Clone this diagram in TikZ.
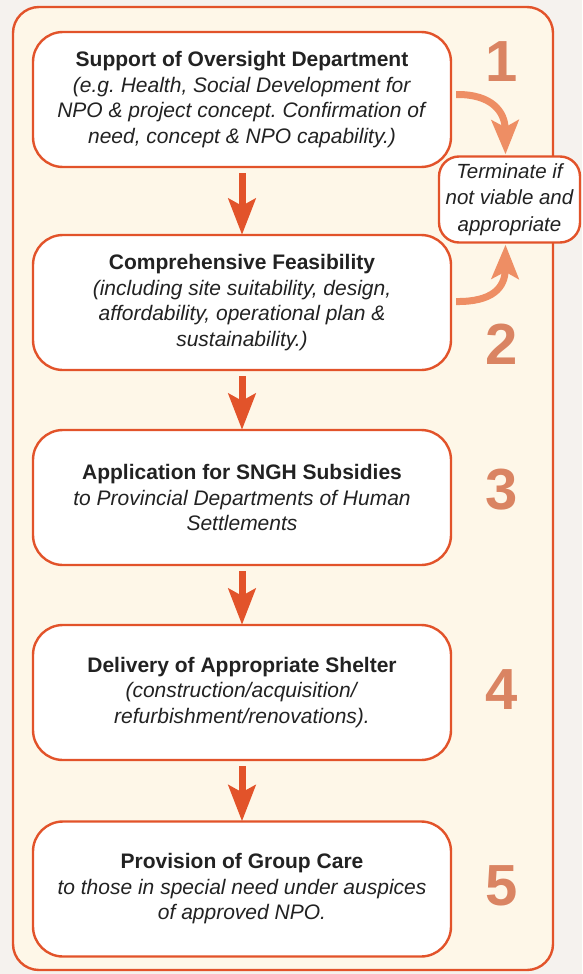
\documentclass[tikz,border=0pt]{standalone}
\usepackage{fontspec}
\setmainfont{Liberation Sans}
\usetikzlibrary{arrows.meta,calc}
\frenchspacing
\definecolor{bgc}{HTML}{F5F2EE}
\definecolor{panelc}{HTML}{FEF7E8}
\definecolor{edgec}{HTML}{E2532A}
\definecolor{numc}{HTML}{DA8462}
\definecolor{curvec}{HTML}{EE8E64}
\definecolor{txtc}{HTML}{222222}
\tikzset{
  stepbox/.style={draw=edgec, line width=2.4pt, fill=white, rounded corners=30pt,
    minimum width=418pt, minimum height=135pt, inner sep=0pt, align=center,
    text=txtc, font=\fontsize{21}{25.5}\selectfont},
  termbox/.style={draw=edgec, line width=2.4pt, fill=white, rounded corners=20pt,
    minimum width=141pt, minimum height=86pt, inner sep=0pt, align=center,
    text=txtc, font=\fontsize{20.5}{26.5}\selectfont\itshape},
  numlabel/.style={text=numc, font=\fontsize{58}{58}\selectfont\bfseries, inner sep=0pt},
  downarrow/.style={draw=edgec, line width=7pt, -{Stealth[length=36pt,width=27pt,inset=7pt]}},
  curvearrow/.style={draw=curvec, line width=7pt, -{Stealth[length=34pt,width=27pt,inset=7pt]}},
}
\begin{document}
\begin{tikzpicture}[x=1pt,y=-1pt]
\useasboundingbox (0,0) rectangle (582,974);
\fill[bgc] (0,0) rectangle (582,974);
\draw[draw=edgec, line width=2.4pt, fill=panelc, rounded corners=26pt] (13,7) rectangle (553,970);

\node[stepbox] (b1) at (242,99.5) {\textbf{Support of Oversight Department}\\\textit{(e.g. Health, Social Development for}\\\textit{NPO \& project concept. Confirmation of}\\\textit{need, concept \& NPO capability.)}};
\node[stepbox] (b2) at (242,302.5) {\textbf{Comprehensive Feasibility}\\\textit{(including site suitability, design,}\\\textit{affordability, operational plan \&}\\\textit{sustainability.)}};
\node[stepbox] (b3) at (242,497.5) {\textbf{Application for SNGH Subsidies}\\\textit{to Provincial Departments of Human}\\\textit{Settlements}};
\node[stepbox] (b4) at (242,692.5) {\textbf{Delivery of Appropriate Shelter}\\\textit{(construction/acquisition/}\\\textit{refurbishment/renovations).}};
\node[stepbox] (b5) at (242,889) {\textbf{Provision of Group Care}\\\textit{to those in special need under auspices}\\\textit{of approved NPO.}};

\node[termbox] (t) at (509.5,199.5) {Terminate if\\not viable and\\appropriate};

\node[numlabel] (n1) at (502,62) {1};
\node[numlabel] (n2) at (502,344) {2};
\node[numlabel] (n3) at (502,490) {3};
\node[numlabel] (n4) at (502,690) {4};
\node[numlabel] (n5) at (502,886) {5};

\draw[downarrow] ([yshift=-5pt]b1.south) -- ([yshift=-1pt]b2.north);
\draw[downarrow] ([yshift=-5pt]b2.south) -- ([yshift=-1pt]b3.north);
\draw[downarrow] ([yshift=-5pt]b3.south) -- ([yshift=-1pt]b4.north);
\draw[downarrow] ([yshift=-5pt]b4.south) -- ([yshift=-1pt]b5.north);

\draw[curvearrow] ([shift={(4,-5)}]b1.east) .. controls (492,94) and (505,112) .. ([shift={(-4,-1)}]t.north);
\draw[curvearrow] ([shift={(4,-1)}]b2.east) .. controls (492,302) and (505,288) .. ([shift={(-4,1)}]t.south);
\end{tikzpicture}
\end{document}
